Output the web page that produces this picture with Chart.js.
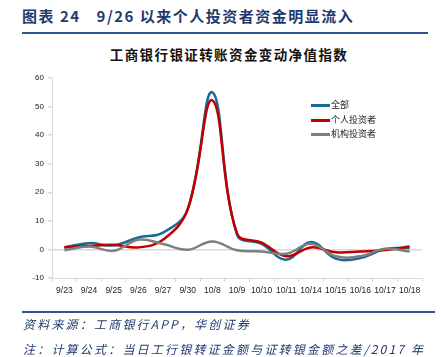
<!DOCTYPE html>
<html><head><meta charset="utf-8">
<script src="https://cdn.jsdelivr.net/npm/chart.js@4"></script>
<style>
html,body{margin:0;padding:0;background:#fff;width:441px;height:357px;overflow:hidden;font-family:"Noto Sans CJK SC",sans-serif;}
#c{position:absolute;left:0;top:0;}
.hdr{position:absolute;left:22px;top:5px;font-size:15px;font-weight:bold;color:#1F3A6E;letter-spacing:1.5px;white-space:nowrap;}
.hl{position:absolute;left:22px;width:406px;top:32px;height:2px;background:#2E5590;}
.fl{position:absolute;left:22px;width:413px;top:311px;height:2px;background:#2E5590;}
.ct{position:absolute;left:0;width:458px;text-align:center;top:44px;font-size:13.5px;font-weight:bold;color:#111;letter-spacing:1.4px;white-space:nowrap;}
.src{position:absolute;left:23px;font-size:12px;font-style:italic;color:#1F3A6E;letter-spacing:2.2px;white-space:nowrap;}
.lg{position:absolute;left:311px;font-size:9px;color:#222;white-space:nowrap;line-height:12px;}
.lg span{display:inline-block;width:19px;height:2.5px;vertical-align:middle;margin-right:1px;}
</style></head><body>
<div class="hdr">图表 24<span style="display:inline-block;width:16px"></span>9/26 以来个人投资者资金明显流入</div>
<div class="hl"></div>
<div class="ct">工商银行银证转账资金变动净值指数</div>
<canvas id="c" width="441" height="357"></canvas>
<div class="lg" style="top:99px"><span style="background:#1B6A96"></span>全部</div>
<div class="lg" style="top:114px"><span style="background:#C00000"></span>个人投资者</div>
<div class="lg" style="top:128px"><span style="background:#7F7F7F"></span>机构投资者</div>
<div class="fl"></div>
<div class="src" style="top:315px">资料来源：工商银行APP，华创证券</div>
<div class="src" style="top:340px">注：计算公式：当日工行银转证金额与证转银金额之差/2017 年</div>
<script>
const categories = ["9/23","9/24","9/25","9/26","9/27","9/30","10/8","10/9","10/10","10/11","10/14","10/15","10/16","10/17","10/18"];
const seriesAll = [0.7, 2.2, 1.4, 4.2, 5.9, 14.0, 55.0, 5.2, 1.9, -3.6, 2.6, -3.2, -3.0, 0.1, 0.5];
const seriesPersonal = [0.8, 1.2, 1.6, 0.7, 3.4, 14.0, 52.2, 5.6, 2.4, -2.4, 0.7, -1.0, -0.7, -0.2, 1.0];
const seriesInstitution = [-0.3, 1.0, -0.5, 3.4, 1.9, -0.1, 2.8, -0.3, -0.7, -1.5, 2.0, -2.4, -2.4, 0.2, -0.7];
const seriesNames = ["全部","个人投资者","机构投资者"];
const yTicks = {min:-10, max:60, step:10};

const mk = (label, data, color) => ({label, data, borderColor: color, backgroundColor: color, borderWidth: 2.5, pointRadius: 0, tension: 0.4, fill: false});
new Chart(document.getElementById('c'), {
  type: 'line',
  data: {
    labels: categories,
    datasets: [
      mk(seriesNames[2], seriesInstitution, '#7F7F7F'),
      mk(seriesNames[1], seriesPersonal, '#C00000'),
      mk(seriesNames[0], seriesAll, '#1B6A96')
    ]
  },
  options: {
    responsive: false,
    animation: false,
    layout: {padding: {left: 0, right: 19, top: 78, bottom: 57}},
    plugins: {legend: {display: false}, tooltip: {enabled: false}, title: {display: false}},
    scales: {
      x: {
        offset: true,
        grid: {drawOnChartArea: false, tickLength: 4, tickColor: '#d9d9d9', offset: true},
        border: {color: '#d9d9d9'},
        ticks: {color: '#222', font: {family: 'Arial, Liberation Sans', size: 8.5}, maxRotation: 0, autoSkip: false, padding: 4},
        afterFit: s => { s.height = 22; }
      },
      y: {
        min: yTicks.min, max: yTicks.max,
        grid: {color: c => c.tick && c.tick.value === 0 ? '#d9d9d9' : 'rgba(0,0,0,0)', tickLength: 4, tickColor: '#d9d9d9', lineWidth: 1.5},
        border: {color: '#d9d9d9'},
        ticks: {stepSize: yTicks.step, color: '#222', font: {family: 'Arial, Liberation Sans', size: 8}, padding: 4},
        afterFit: s => { s.width = 52; }
      }
    }
  }
});
</script>
</body></html>
